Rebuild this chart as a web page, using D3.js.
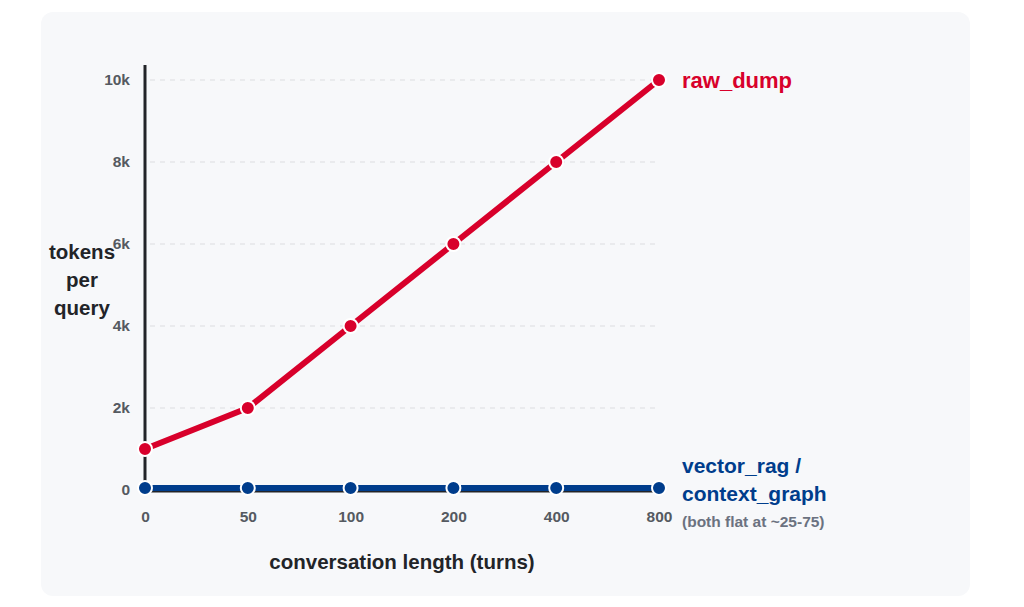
<!DOCTYPE html>
<html>
<head>
<meta charset="utf-8">
<script src="https://cdn.jsdelivr.net/npm/d3@7"></script>
<style>
  html, body { margin: 0; padding: 0; background: #fff; }
  svg { display: block; font-family: "Liberation Sans", Arial, sans-serif; }
</style>
</head>
<body>
<div id="container"></div>
<script>
// Data
const turns = ["0", "50", "100", "200", "400", "800"];
const rawDump = [1000, 2000, 4000, 6000, 8000, 10000];
const vectorRag = [50, 50, 50, 50, 50, 50];
const yTicks = [0, 2000, 4000, 6000, 8000, 10000];

const width = 1024, height = 607;
const red = "#d8002b", blue = "#003d8c";

const svg = d3.select("#container").append("svg")
  .attr("width", width)
  .attr("height", height);

// panel
svg.append("rect")
  .attr("x", 41).attr("y", 12)
  .attr("width", 929).attr("height", 584)
  .attr("rx", 12)
  .attr("fill", "#f7f8fa");

const x = d3.scalePoint().domain(turns).range([145, 659]);
const y = d3.scaleLinear().domain([0, 10000]).range([490, 80]);

// gridlines
svg.append("g")
  .selectAll("line")
  .data(yTicks.filter(d => d > 0))
  .enter().append("line")
  .attr("x1", 150).attr("x2", 656)
  .attr("y1", d => y(d)).attr("y2", d => y(d))
  .attr("stroke", "#dcdde0")
  .attr("stroke-width", 1)
  .attr("stroke-dasharray", "5,5");

// y axis
const yAxis = svg.append("g")
  .attr("transform", "translate(145,0)")
  .call(d3.axisLeft(y).tickValues(yTicks).tickSize(0).tickPadding(15)
    .tickFormat(d => d === 0 ? "0" : (d / 1000) + "k"));
yAxis.select(".domain").remove();
yAxis.selectAll("text")
  .attr("font-size", 15.5).attr("font-weight", "bold").attr("fill", "#555a61")
  .attr("font-family", "Liberation Sans, Arial, sans-serif");

svg.append("line")
  .attr("x1", 145).attr("x2", 145)
  .attr("y1", 65).attr("y2", 492)
  .attr("stroke", "#222428").attr("stroke-width", 3);

// x axis
const xAxis = svg.append("g")
  .attr("transform", "translate(0,491)")
  .call(d3.axisBottom(x).tickSize(0).tickPadding(20));
xAxis.select(".domain").remove();
xAxis.selectAll("text")
  .attr("font-size", 15.5).attr("font-weight", "bold").attr("fill", "#555a61")
  .attr("font-family", "Liberation Sans, Arial, sans-serif");

svg.append("line")
  .attr("x1", 145).attr("x2", 659)
  .attr("y1", 491).attr("y2", 491)
  .attr("stroke", "#222428").attr("stroke-width", 3);

// axis titles
const yTitle = svg.append("text")
  .attr("text-anchor", "middle")
  .attr("font-size", 20.5).attr("font-weight", "bold").attr("fill", "#222428");
["tokens", "per", "query"].forEach((t, i) => {
  yTitle.append("tspan").attr("x", 82).attr("y", 259 + i * 28).text(t);
});

svg.append("text")
  .attr("x", 402).attr("y", 569)
  .attr("text-anchor", "middle")
  .attr("font-size", 20.5).attr("font-weight", "bold").attr("fill", "#222428")
  .text("conversation length (turns)");

// lines
const line = d3.line().x((d, i) => x(turns[i])).y(d => y(d));

function drawSeries(values, color, w) {
  svg.append("path")
    .datum(values)
    .attr("d", line)
    .attr("fill", "none")
    .attr("stroke", color)
    .attr("stroke-width", w)
    .attr("stroke-linejoin", "round");
  svg.append("g")
    .selectAll("circle")
    .data(values)
    .enter().append("circle")
    .attr("cx", (d, i) => x(turns[i]))
    .attr("cy", d => y(d))
    .attr("r", 7)
    .attr("fill", color)
    .attr("stroke", "#fff")
    .attr("stroke-width", 2);
}
drawSeries(vectorRag, blue, 6);
drawSeries(rawDump, red, 6);

// labels
svg.append("text")
  .attr("x", 682).attr("y", 88)
  .attr("font-size", 22).attr("font-weight", "bold").attr("fill", red)
  .text("raw_dump");

const blueLabel = svg.append("text")
  .attr("font-size", 21).attr("font-weight", "bold").attr("fill", blue);
blueLabel.append("tspan").attr("x", 682).attr("y", 473).text("vector_rag /");
blueLabel.append("tspan").attr("x", 682).attr("y", 501).text("context_graph");

svg.append("text")
  .attr("x", 682).attr("y", 527)
  .attr("font-size", 15.5).attr("font-weight", "bold").attr("fill", "#6b7280")
  .text("(both flat at ~25-75)");
</script>
</body>
</html>
